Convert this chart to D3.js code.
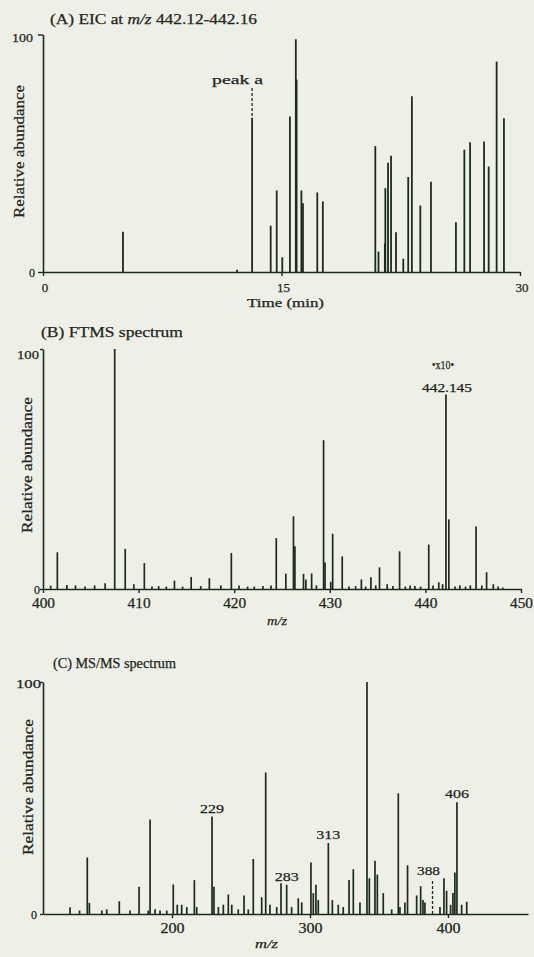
<!DOCTYPE html>
<html>
<head>
<meta charset="utf-8">
<script src="https://cdn.jsdelivr.net/npm/d3@7"></script>
<style>
  body { margin: 0; background: #eef0e8; }
  svg { display: block; }
  text { font-family: "Liberation Serif", "Times New Roman", serif; fill: #1e2620; stroke: #1e2620; stroke-width: 0.25px; }
</style>
</head>
<body>
<div id="chart"></div>
<script>
// (A) EIC at m/z 442.12-442.16 : retention time (min) / relative abundance
const eicTime = [5.03, 12.2, 13.15, 14.32, 14.7, 15.05, 15.53, 15.9, 15.95, 16.25, 16.35, 17.25, 17.6,
  20.9, 21.1, 21.5, 21.53, 21.7, 21.89, 22.2, 22.66, 22.97, 23.2, 23.73, 24.4,
  25.97, 26.5, 26.86, 27.74, 28.03, 28.53, 28.99];
const eicAbund = [17, 1, 65, 19.5, 34.3, 6.2, 65.5, 98, 81, 34.3, 29, 33.5, 29.7,
  53, 8.6, 12, 35.3, 46, 49, 16.7, 5.6, 40, 74, 28, 38,
  21, 51.5, 54.6, 55, 44.4, 88.6, 64.7];
const eicTicks = [0, 15, 30];

// (B) FTMS spectrum
const ftmsMz = [400.8, 401.5, 402.5, 403.4, 404.4, 405.4, 406.5, 407.5, 408.6, 409.5, 410.6, 411.4,
  412.1, 412.9, 413.75, 414.6, 415.5, 416.5, 417.4, 418.6, 419.7, 420.5, 421.4, 422.1, 423, 423.85,
  424.4, 425.4, 426.2, 426.35, 427.25, 427.5, 428.1, 428.6, 429.35, 429.5, 430.1, 430.3, 431.3,
  432, 432.7, 433.3, 433.75, 434.3, 434.8, 435.2, 436, 436.6, 437.3, 437.9, 438.4, 438.9, 439.5,
  440.35, 440.8, 441.4, 441.8, 442.15, 442.45, 443.1, 443.6, 444.2, 444.7, 445.3, 445.9, 446.4,
  447.1, 447.6, 448.1];
const ftmsAbund = [1.4, 15.3, 1.7, 1.5, 1, 1.5, 2.4, 100, 16.7, 2, 10.8, 1,
  1.2, 1, 3.5, 1, 5, 1.2, 4.5, 1.5, 15, 1.5, 1, 1, 1.2, 1.5,
  21.2, 6.4, 30.3, 17.8, 6.3, 4, 6.5, 1.5, 62, 11, 3, 23, 13.6,
  1, 1.2, 4, 1, 4.9, 1.5, 9, 2, 1.2, 15.7, 1, 1.5, 1.2, 1,
  18.5, 1.5, 2.8, 2, 81, 29, 1, 1.5, 1, 1.5, 26, 1.5, 7,
  2, 1, 0.6];
const ftmsTicks = [400, 410, 420, 430, 440, 450];

// (C) MS/MS spectrum
const msmsMz = [126.1, 133, 138.6, 140.1, 149.1, 152.7, 161.8, 169.6, 176.1, 182.8, 184.1, 187.7,
  191.3, 196.2, 200.9, 203.8, 207, 210.7, 216.2, 217.9, 229, 230.4, 233.6, 237.2, 240.8, 243.3,
  248, 252.2, 255.3, 258.9, 265, 267.9, 271, 275.9, 279, 283.1, 286.7, 291.5, 294, 300.7,
  302.4, 304.3, 306, 313.3, 316.2, 320.5, 324.1, 328.3, 331.4, 336.2, 341.3, 343, 347.1,
  348.8, 353.1, 359.2, 364, 365.2, 368.8, 370.7, 377.3, 380.2, 381.9, 383.3, 394.2, 397.1,
  399, 401.9, 403.6, 405, 406.5, 409.9, 413.6];
const msmsAbund = [2.9, 1.5, 24.4, 4.8, 1.5, 2, 5.5, 1.5, 11.7, 1.5, 40.7, 2,
  1.5, 1.5, 12.7, 4, 4, 3, 14.6, 3, 42, 11.7, 3, 4, 8.4, 4,
  2, 8, 2, 23.7, 7.2, 61, 4, 3, 13.3, 12.6, 3, 6.8, 5, 22.2,
  9, 12.6, 6, 30.6, 6, 4, 3, 14.7, 19.3, 5, 100, 15.4, 23,
  17, 9, 2, 52, 3, 5, 21, 8, 12, 6, 5, 3, 15.4,
  10, 4, 9, 17.9, 48.2, 4, 5.3];
const msmsTicks = [200, 300, 400];
const msmsLabelMz = [229, 283.1, 313.3, 406.5];
const msmsLabelText = ["229", "283", "313", "406"];

const ink = "#1c2a20";
const W = 534, H = 957;

const svg = d3.select("#chart").append("svg")
  .attr("width", W).attr("height", H);

svg.append("rect").attr("width", W).attr("height", H).attr("fill", "#eef0e8");

// left-anchored text squeezed/stretched to the width measured on the scan
function label(x, y, size, width, str, italic) {
  const t = svg.append("text").attr("x", x).attr("y", y).style("font-size", `${size}px`);
  if (width) t.attr("textLength", width).attr("lengthAdjust", "spacingAndGlyphs");
  if (italic) t.style("font-style", "italic");
  t.text(str);
  return t;
}

function drawPanel(p) {
  const x = d3.scaleLinear().domain(p.xDomain).range([p.left, p.right]);
  const y = d3.scaleLinear().domain([0, 100]).range([p.bottom, p.top]);
  const g = svg.append("g");

  g.selectAll("line.peak")
    .data(d3.zip(p.xs, p.ys))
    .join("line")
    .attr("class", "peak")
    .attr("x1", (d) => x(d[0]))
    .attr("x2", (d) => x(d[0]))
    .attr("y1", y(0))
    .attr("y2", (d) => y(d[1]))
    .attr("stroke", ink)
    .attr("stroke-width", p.peakWidth);

  const yAxis = g.append("g")
    .attr("transform", `translate(${p.left},0)`)
    .call(d3.axisLeft(y).tickValues([0, 100]).tickSize(p.yTickLen).tickSizeOuter(0));
  yAxis.select(".domain").attr("stroke", ink).attr("stroke-width", 1.6);
  yAxis.selectAll(".tick line").attr("stroke", ink).attr("stroke-width", 1.4);
  yAxis.selectAll(".tick text")
    .style("font-size", "12px")
    .style("font-family", "Liberation Serif, serif")
    .attr("fill", ink)
    .attr("x", (d) => (d === 100 ? p.y100.x : p.y0.x))
    .attr("dy", (d) => (d === 100 ? p.y100.dy : p.y0.dy))
    .attr("textLength", (d) => (d === 100 ? p.y100.w : null))
    .attr("lengthAdjust", "spacingAndGlyphs");

  const xAxis = g.append("g")
    .attr("transform", `translate(0,${p.bottom})`)
    .call(d3.axisBottom(x).tickValues(p.ticks).tickSize(4).tickSizeOuter(0));
  xAxis.select(".domain").attr("stroke", ink).attr("stroke-width", 1.6);
  xAxis.selectAll(".tick line").attr("stroke", ink).attr("stroke-width", 1.4);
  xAxis.selectAll(".tick text")
    .style("font-size", `${p.xTickSize}px`)
    .style("font-family", "Liberation Serif, serif")
    .attr("fill", ink)
    .attr("y", p.xTickY)
    .attr("dy", 0)
    .attr("dx", p.xTickDx || 0)
    .attr("textLength", (d) => (p.xTickW && d >= 100 ? p.xTickW : null))
    .attr("lengthAdjust", "spacingAndGlyphs");

  // rotated y title
  g.append("text")
    .attr("transform", `translate(${p.yLabel.x},${p.yLabel.cy}) rotate(-90)`)
    .attr("x", -p.yLabel.len / 2)
    .attr("textLength", p.yLabel.len)
    .attr("lengthAdjust", "spacingAndGlyphs")
    .style("font-size", "14px")
    .text("Relative abundance");

  return { x, y, g };
}

// ---- Panel A ----
const A = drawPanel({
  xDomain: [0, 30], left: 43, right: 520, top: 34.5, bottom: 272,
  xs: eicTime, ys: eicAbund, ticks: eicTicks, peakWidth: 1.8,
  yTickLen: 5, y100: { x: -10, dy: 6.5, w: 21 }, y0: { x: -8, dy: 4.5 },
  xTickSize: 13, xTickY: 19.5, xTickDx: 1.5,
  yLabel: { x: 23.5, cy: 151.5, len: 133 },
});
const titleA = svg.append("text").attr("x", 50).attr("y", 23.5).style("font-size", "14px")
  .attr("textLength", 207).attr("lengthAdjust", "spacingAndGlyphs");
titleA.append("tspan").text("(A) EIC at ");
titleA.append("tspan").style("font-style", "italic").text("m/z");
titleA.append("tspan").text(" 442.12-442.16");
label(247, 307, 13, 77, "Time (min)");

// peak a marker
const peakATime = 13.15;
const peakAAbund = eicAbund[eicTime.indexOf(peakATime)];
svg.append("line")
  .attr("x1", A.x(peakATime)).attr("x2", A.x(peakATime))
  .attr("y1", 88).attr("y2", A.y(peakAAbund))
  .attr("stroke", ink).attr("stroke-width", 1.3).attr("stroke-dasharray", "3,2");
label(212, 83.5, 13, 51, "peak a");

// ---- Panel B ----
const B = drawPanel({
  xDomain: [400, 450], left: 43, right: 521, top: 349, bottom: 589,
  xs: ftmsMz, ys: ftmsAbund, ticks: ftmsTicks, peakWidth: 1.7,
  yTickLen: 3, y100: { x: -4, dy: 9.5, w: 22 }, y0: { x: -3, dy: 4 },
  xTickSize: 14, xTickY: 19, xTickW: 23,
  yLabel: { x: 31.5, cy: 465, len: 136 },
});
label(41, 337, 15, 142, "(B) FTMS spectrum");
label(267, 625, 13, 20, "m/z", true);
label(432, 369, 13, 22, "•x10•");
label(422, 392, 12, 50, "442.145");

// ---- Panel C ----
const C = drawPanel({
  xDomain: [106.5, 458], left: 43, right: 528, top: 682, bottom: 914,
  xs: msmsMz, ys: msmsAbund, ticks: msmsTicks, peakWidth: 1.7,
  yTickLen: 3, y100: { x: -2, dy: 5, w: 25 }, y0: { x: -6, dy: 4 },
  xTickSize: 14, xTickY: 19, xTickW: 24,
  yLabel: { x: 33, cy: 787, len: 136 },
});
label(53, 668, 14, 123, "(C) MS/MS spectrum");
label(255, 948, 13, 23, "m/z", true);

svg.selectAll("text.msms")
  .data(d3.zip(msmsLabelMz, msmsLabelText))
  .join("text")
  .attr("class", "msms")
  .attr("x", (d) => C.x(d[0]) - 12)
  .attr("y", (d) => C.y(msmsAbund[msmsMz.indexOf(d[0])]) - 4)
  .attr("textLength", 24)
  .attr("lengthAdjust", "spacingAndGlyphs")
  .style("font-size", "13px")
  .text((d) => d[1]);

// 388 marker (dashed)
const lossMz = 388.8;
svg.append("line")
  .attr("x1", C.x(lossMz)).attr("x2", C.x(lossMz))
  .attr("y1", 881).attr("y2", C.y(0))
  .attr("stroke", ink).attr("stroke-width", 1.3).attr("stroke-dasharray", "3,2");
label(417, 875, 13, 23, "388");
</script>
</body>
</html>
